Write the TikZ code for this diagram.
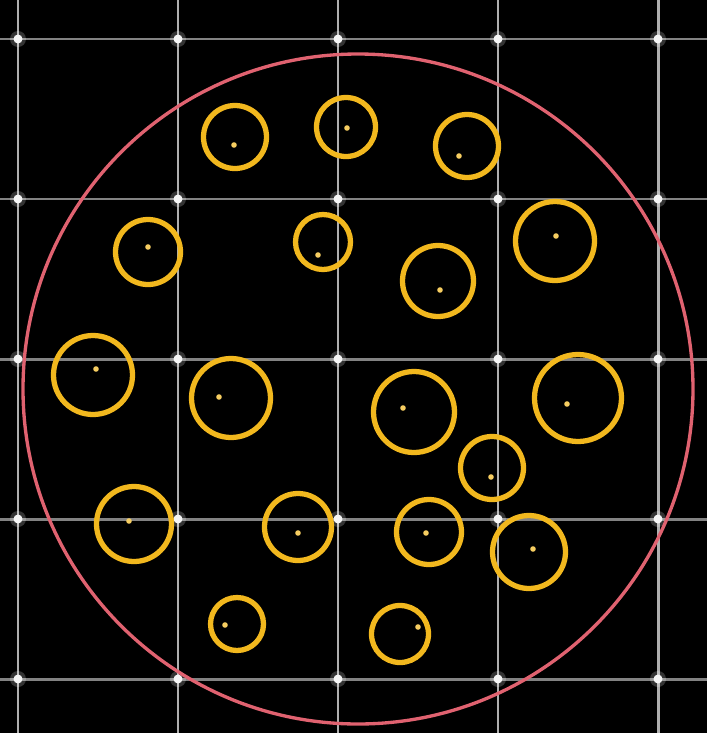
\documentclass[tikz,border=0pt]{standalone}
\usepackage{xcolor}
\definecolor{gridv}{RGB}{175,175,175}
\definecolor{gridh}{RGB}{130,130,130}
\definecolor{dishred}{RGB}{224,98,112}
\definecolor{cellgold}{RGB}{242,184,30}

\begin{document}
\begin{tikzpicture}[x=0.01cm,y=-0.01cm,
  gridline/.style={line width=0.85pt},
  knot/.style={fill=white!92!gray},
  cell/.style={draw=cellgold,line width=1.5pt},
  nucleus/.style={fill=cellgold!70!white}]
\fill[black] (0,0) rectangle (707,733);
\useasboundingbox (0,0) rectangle (707,733);
% grid
\foreach \x in {18,178,...,658} \draw[gridline,gridv] (\x,0) -- (\x,733);
\foreach \y in {39,199,...,679} \draw[gridline,gridh] (0,\y) -- (707,\y);
\foreach \x in {18,178,...,658}
  \foreach \y in {39,199,...,679} {
    \fill[white,opacity=0.2] (\x,\y) circle[radius=8];
    \fill[knot] (\x,\y) circle[radius=4.5];
  }
% dish
\coordinate (dish) at (358,389);
\draw[dishred,line width=0.95pt] (dish) circle[radius=335];
% cells: centre x/y, radius, nucleus x/y
\foreach \cx/\cy/\r/\nx/\ny in {235/137/31.5/234/145, 346/127/29.5/347/128,
    467/146/31.5/459/156, 148/252/32.5/148/247, 323/242/27.5/318/255,
    438/281/35.5/440/290, 555/241/39.5/556/236, 93/375/39.5/96/369,
    231/398/39.5/219/397, 414/412/40.5/403/408, 578/398/43.5/567/404,
    492/468/31.5/491/477, 134/524/37.5/129/521, 298/527/33.5/298/533,
    429/532/32.5/426/533, 529/552/36.5/533/549, 237/624/26.5/225/625,
    400/634/28.5/418/627} {
  \draw[cell] (\cx,\cy) circle[radius=\r];
  \fill[nucleus] (\nx,\ny) circle[radius=2.8];
}
\end{tikzpicture}
\end{document}
